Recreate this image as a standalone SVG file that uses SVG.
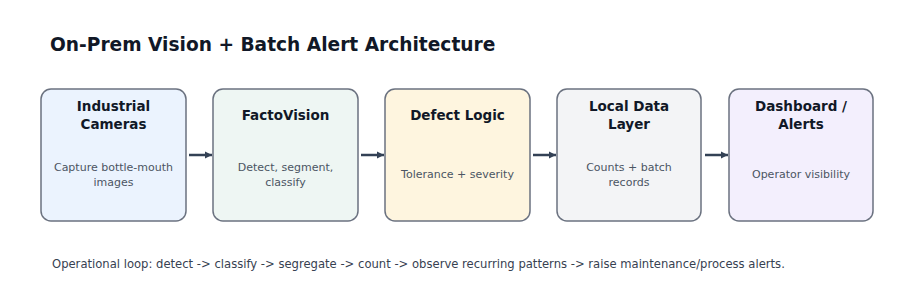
<svg xmlns="http://www.w3.org/2000/svg" width="918" height="303" viewBox="0 0 918 303">
<style>
text{font-family:"DejaVu Sans",sans-serif}
.box{stroke:#6b7280;stroke-width:1.5}
.t{font-size:13.5px;font-weight:bold;fill:#111827;text-anchor:middle}
.s{font-size:11px;fill:#4b5563;text-anchor:middle}
.c{stroke:#334155;stroke-width:2.5;fill:none}
</style>
<defs>
<marker id="ah" viewBox="0 0 10 10" refX="10" refY="5" markerWidth="3" markerHeight="3.6" orient="auto" markerUnits="strokeWidth">
<path d="M0,0 L10,5 L0,10 z" fill="#334155"/>
</marker>
</defs>
<rect width="918" height="303" fill="#ffffff"/>
<text x="50" y="51" font-size="18.6" font-weight="bold" fill="#111827">On-Prem Vision + Batch Alert Architecture</text>
<g id="connectors">
<line class="c" x1="189" y1="155" x2="212" y2="155" marker-end="url(#ah)"/>
<line class="c" x1="361" y1="155" x2="384" y2="155" marker-end="url(#ah)"/>
<line class="c" x1="533" y1="155" x2="556" y2="155" marker-end="url(#ah)"/>
<line class="c" x1="705" y1="155" x2="728" y2="155" marker-end="url(#ah)"/>
</g>
<g id="n1">
<rect class="box" x="41" y="89" width="145" height="132" rx="10" fill="#ebf3fe"/>
<text class="t" x="113.5" y="111">Industrial</text>
<text class="t" x="113.5" y="129">Cameras</text>
<text class="s" x="113.5" y="171">Capture bottle-mouth</text>
<text class="s" x="113.5" y="186">images</text>
</g>
<g id="n2">
<rect class="box" x="213" y="89" width="145" height="132" rx="10" fill="#eef6f3"/>
<text class="t" x="285.5" y="120">FactoVision</text>
<text class="s" x="285.5" y="171">Detect, segment,</text>
<text class="s" x="285.5" y="186">classify</text>
</g>
<g id="n3">
<rect class="box" x="385" y="89" width="145" height="132" rx="10" fill="#fef5df"/>
<text class="t" x="457.5" y="120">Defect Logic</text>
<text class="s" x="457.5" y="178">Tolerance + severity</text>
</g>
<g id="n4">
<rect class="box" x="557" y="89" width="144" height="132" rx="10" fill="#f3f4f6"/>
<text class="t" x="629" y="111">Local Data</text>
<text class="t" x="629" y="129">Layer</text>
<text class="s" x="629" y="171">Counts + batch</text>
<text class="s" x="629" y="186">records</text>
</g>
<g id="n5">
<rect class="box" x="729" y="89" width="144" height="132" rx="10" fill="#f3effd"/>
<text class="t" x="801" y="111">Dashboard /</text>
<text class="t" x="801" y="129">Alerts</text>
<text class="s" x="801" y="178">Operator visibility</text>
</g>
<text x="52" y="268" font-size="11.6" fill="#374151">Operational loop: detect -&gt; classify -&gt; segregate -&gt; count -&gt; observe recurring patterns -&gt; raise maintenance/process alerts.</text>
</svg>
